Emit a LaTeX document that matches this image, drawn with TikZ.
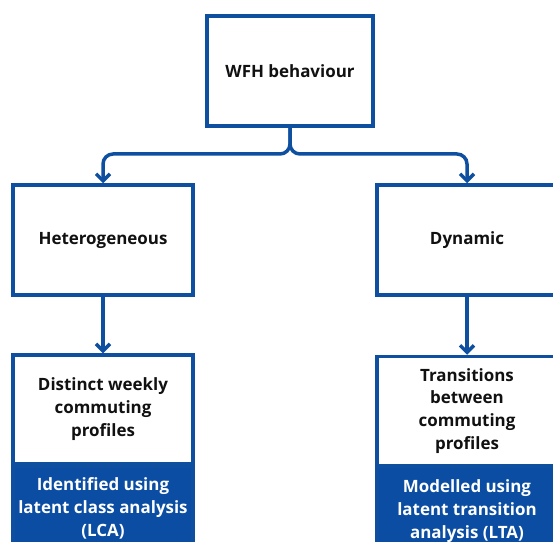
\documentclass[tikz,border=0pt]{standalone}
\usepackage{fontspec}
\setmainfont{Open Sans}
\usetikzlibrary{arrows.meta}
\definecolor{wfhblue}{HTML}{0F4FA0}
\definecolor{wfhfill}{HTML}{0B4DA2}
\definecolor{wfhtext}{HTML}{111111}
\begin{document}
\begin{tikzpicture}[x=1bp,y=-1bp,
  lbl/.style={font=\bfseries\fontsize{17}{23}\selectfont,align=center},
  box/.style={lbl,draw=wfhblue,line width=3.5bp,fill=white,inner sep=0pt,text=wfhtext},
  infobox/.style={draw=wfhblue,line width=3.5bp,fill=wfhfill,inner sep=0pt},
  link/.style={draw=wfhblue,line width=3.5bp,rounded corners=10bp,
    -{Straight Barb[length=7bp,width=14bp,line width=3.5bp]}}]
\useasboundingbox (0,0) rectangle (553,542);
\clip (0,0) rectangle (553,542);
\fill[white] (0,0) rectangle (553,542);

% top level
\node[box,minimum width=166bp,minimum height=110bp] (top) at (290,71) {WFH behaviour};

% second level
\node[box,minimum width=180bp,minimum height=110bp] (het) at (103,240) {\raisebox{-2bp}{Heterogeneous}};
\node[box,minimum width=180bp,minimum height=110bp] (dyn) at (467,240) {\raisebox{-2bp}{Dynamic}};

% method boxes (blue part continues below the page edge)
\node[infobox,minimum width=180bp,minimum height=100bp,anchor=north] (lcaF) at (103,464) {};
\node[infobox,minimum width=180bp,minimum height=100bp,anchor=north] (ltaF) at (467,464) {};
\node[lbl,text=white,anchor=north] (lca) at (103,474) {Identified using\\latent class analysis\\(LCA)};
\node[lbl,text=white,anchor=north] (lta) at (467,476) {Modelled using\\latent transition\\analysis (LTA)};

\node[box,minimum width=180bp,minimum height=109bp] (prof) at (103,409.5)
  {Distinct weekly\\commuting\\profiles};
\node[box,minimum width=180bp,minimum height=109bp] (trans) at (467,411)
  {Transitions\\between\\commuting\\profiles};

% connectors
\coordinate (split) at (290,154);
\draw[link] (top.south) -- (split) -| (het.north);
\draw[link] (top.south) -- (split) -| (dyn.north);
\draw[link,rounded corners=0pt] (het.south) -- (prof.north);
\draw[link,rounded corners=0pt] (dyn.south) -- (trans.north);
\end{tikzpicture}
\end{document}
